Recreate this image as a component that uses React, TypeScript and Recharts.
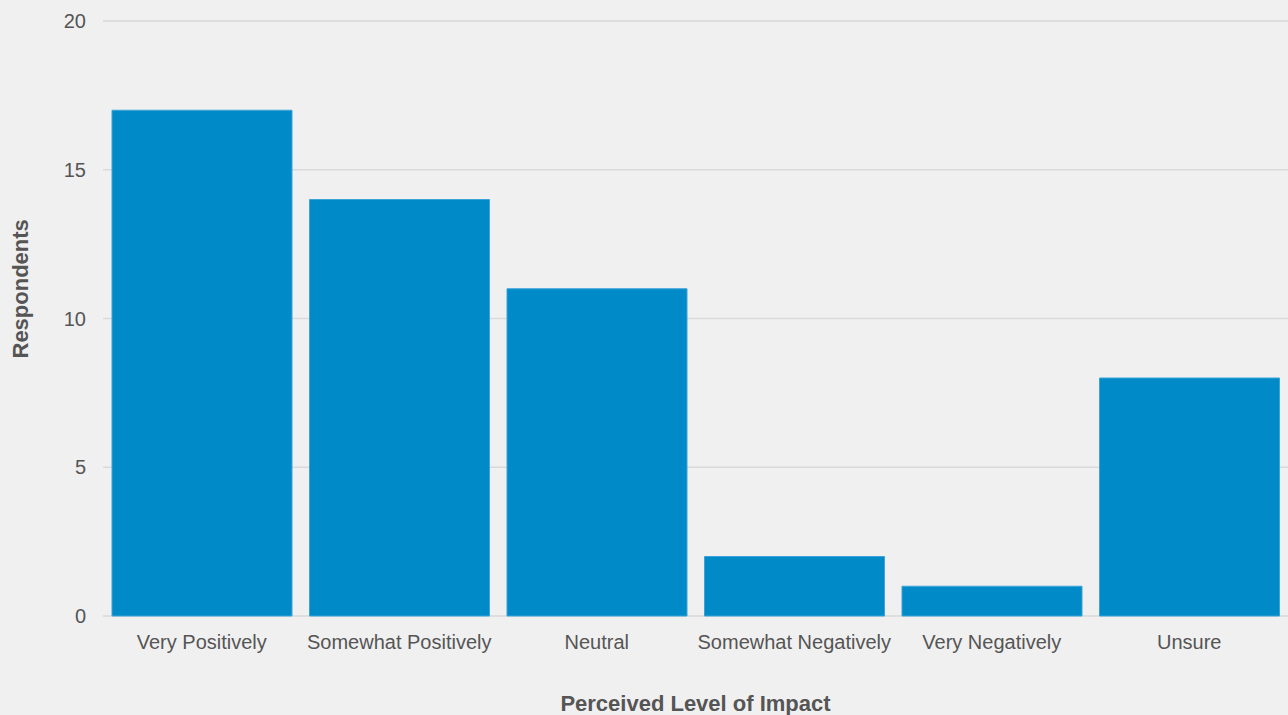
import React from "react";
import { BarChart, Bar, XAxis, YAxis, CartesianGrid } from "recharts";

const categories = [
  "Very Positively",
  "Somewhat Positively",
  "Neutral",
  "Somewhat Negatively",
  "Very Negatively",
  "Unsure",
];
const respondents = [17, 14, 11, 2, 1, 8];
const yTicks = [0, 5, 10, 15, 20];

const data = categories.map((c, i) => ({ category: c, value: respondents[i] }));

const font = "'Liberation Sans', Arial, sans-serif";

export default function App() {
  return (
    <div
      style={{
        position: "absolute",
        left: 0,
        top: 0,
        width: 1288,
        height: 715,
        background: "#f0f0f0",
        fontFamily: font,
      }}
    >
      <BarChart
        width={1288}
        height={715}
        data={data}
        margin={{ top: 21, right: 0, bottom: 0, left: 0 }}
        barCategoryGap={9}
      >
        <CartesianGrid vertical={false} stroke="#d9d9d9" strokeWidth={1.5} />
        <XAxis
          dataKey="category"
          height={99}
          axisLine={false}
          tickLine={false}
          tickSize={0}
          tickMargin={19}
          tick={{ fill: "#555555", fontSize: 20, fontFamily: font }}
          interval={0}
          label={{
            value: "Perceived Level of Impact",
            position: "insideBottom",
            offset: 4,
            fill: "#555555",
            fontSize: 22,
            fontWeight: "bold",
            fontFamily: font,
          }}
        />
        <YAxis
          width={103}
          domain={[0, 20]}
          ticks={yTicks}
          axisLine={false}
          tickLine={false}
          tickSize={0}
          tickMargin={17}
          tick={{ fill: "#555555", fontSize: 20, fontFamily: font }}
          label={{
            value: "Respondents",
            angle: -90,
            position: "insideLeft",
            offset: 20,
            dy: 40,
            fill: "#555555",
            fontSize: 22,
            fontWeight: "bold",
            fontFamily: font,
          }}
        />
        <Bar
          dataKey="value"
          fill="#008bc8"
          stroke="#3ba3d8"
          strokeWidth={1}
          isAnimationActive={false}
        />
      </BarChart>
    </div>
  );
}
